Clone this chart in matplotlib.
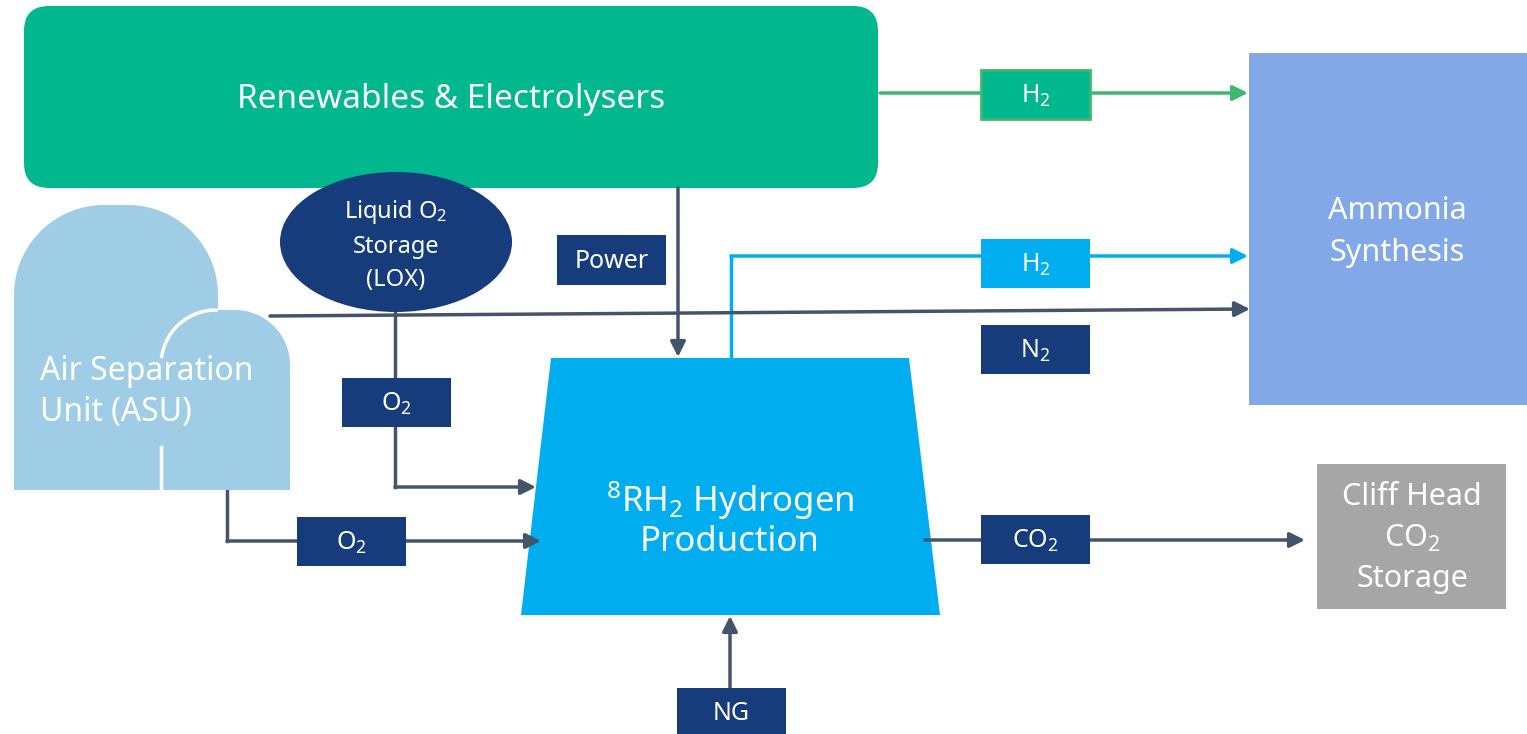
import numpy as np
import matplotlib.pyplot as plt
from matplotlib.patches import FancyBboxPatch, Rectangle, Ellipse, Polygon

plt.rcParams['font.family'] = ['Noto Sans', 'DejaVu Sans']
plt.rcParams['mathtext.default'] = 'regular'

# colours
GREEN = '#00B78E'
GREEN_LINE = '#3DB86E'
BLUE = '#00AEEF'
NAVY = '#173C7C'
LIGHT = '#A0CDE6'
AMMONIA = '#82A8E8'
GREY = '#A6A6A6'
LINE = '#44546A'

# text
main_blocks = ['Renewables & Electrolysers', 'Ammonia\nSynthesis', 'Cliff Head\nCO$_2$\nStorage',
               '$^8$RH$_2$ Hydrogen\nProduction', 'Air Separation\nUnit (ASU)', 'Liquid O$_2$\nStorage\n(LOX)']
flow_labels = ['Power', 'O$_2$', 'O$_2$', 'N$_2$', 'CO$_2$', 'NG', 'H$_2$', 'H$_2$']

fig = plt.figure(figsize=(15.27, 7.34), dpi=100)
ax = fig.add_axes([0, 0, 1, 1])
ax.set_xlim(0, 1527)
ax.set_ylim(734, 0)
ax.axis('off')


def arrow(x0, y0, x1, y1, color=LINE):
    ax.annotate('', xy=(x1, y1), xytext=(x0, y0),
                arrowprops=dict(arrowstyle='-|>,head_length=0.9,head_width=0.45',
                                color=color, lw=2.5, shrinkA=0, shrinkB=0))


def label_box(x, y, w, h, txt, fc=NAVY, ec='none', size=18):
    ax.add_patch(Rectangle((x, y), w, h, fc=fc, ec=ec, lw=2, zorder=4))
    ax.text(x + w / 2, y + h / 2 + 1, txt, color='white', fontsize=size,
            ha='center', va='center', zorder=5)


def dome(x0, x1, top, bottom, r):
    # rectangle with rounded top corners (y axis points down)
    t = np.linspace(np.pi, 1.5 * np.pi, 20)
    left = np.c_[x0 + r + r * np.cos(t), top + r + r * np.sin(t)]
    t = np.linspace(1.5 * np.pi, 2 * np.pi, 20)
    right = np.c_[x1 - r + r * np.cos(t), top + r + r * np.sin(t)]
    return np.vstack([[x0, bottom], left, right, [x1, bottom]])


# renewables block
ax.add_patch(FancyBboxPatch((24 + 25, 6 + 25), 854 - 50, 182 - 50,
                            boxstyle='round,pad=25', fc=GREEN, ec='none', zorder=2))
ax.text(451, 100, main_blocks[0], color='white', fontsize=24, ha='center', va='center', zorder=3)

# ammonia synthesis
ax.add_patch(Rectangle((1249, 53), 278, 352, fc=AMMONIA, ec='none', zorder=2))
ax.text(1397, 232, main_blocks[1], color='white', fontsize=22, ha='center', va='center',
        linespacing=1.5, zorder=3)

# cliff head
ax.add_patch(Rectangle((1317, 464), 189, 145, fc=GREY, ec='none', zorder=2))
ax.text(1412, 538, main_blocks[2], color='white', fontsize=22, ha='center', va='center',
        linespacing=1.45, zorder=3)

# hydrogen production trapezoid
ax.add_patch(Polygon([(551, 358), (909, 358), (940, 615), (521, 615)], fc=BLUE, ec='none', zorder=2))
ax.text(730, 519, main_blocks[3], color='white', fontsize=25, ha='center', va='center',
        linespacing=1.1, zorder=3)

# air separation unit
ax.add_patch(Polygon(dome(14, 218, 205, 490, 90), fc=LIGHT, ec='none', zorder=2))
ax.add_patch(Polygon(dome(161, 290, 310, 490, 55), fc=LIGHT, ec='none', zorder=2.1))
t = np.linspace(1.05 * np.pi, 1.5 * np.pi, 30)
ax.plot(216 + 55 * np.cos(t), 365 + 55 * np.sin(t), color='white', lw=2.5, zorder=2.2)
ax.plot([161, 161], [447, 490], color='white', lw=2.5, zorder=2.2)
ax.text(40, 392, main_blocks[4], color='white', fontsize=23, ha='left', va='center',
        linespacing=1.3, zorder=3)

# LOX tank
ax.add_patch(Ellipse((396, 242), 232, 140, fc=NAVY, ec='none', zorder=3))
ax.text(396, 245, main_blocks[5], color='white', fontsize=17, ha='center', va='center',
        linespacing=1.5, zorder=4)

# flows
arrow(880, 93, 1248, 93, color=GREEN_LINE)
ax.plot([731, 731], [358, 256], color=BLUE, lw=2.5, zorder=1, solid_capstyle='projecting')
arrow(731, 256, 1248, 256, color=BLUE)
arrow(270, 316, 1250, 309)
arrow(678, 188, 678, 357)
ax.plot([395, 395], [311, 487], color=LINE, lw=2.5, zorder=1, solid_capstyle='projecting')
arrow(395, 487, 536, 487)
ax.plot([227, 227], [490, 541], color=LINE, lw=2.5, zorder=1, solid_capstyle='projecting')
arrow(227, 541, 541, 541)
arrow(925, 540, 1305, 540)
arrow(730, 688, 730, 616)

# flow labels
label_box(557, 235, 109, 50, flow_labels[0])
label_box(342, 378, 109, 49, flow_labels[1])
label_box(297, 517, 109, 49, flow_labels[2])
label_box(981, 325, 109, 49, flow_labels[3])
label_box(981, 515, 109, 49, flow_labels[4])
label_box(677, 688, 109, 50, flow_labels[5])
label_box(981, 70, 109, 49, flow_labels[6], fc=GREEN, ec=GREEN_LINE)
label_box(981, 239, 109, 49, flow_labels[7], fc=BLUE)

fig.savefig('out.png', dpi=100)
